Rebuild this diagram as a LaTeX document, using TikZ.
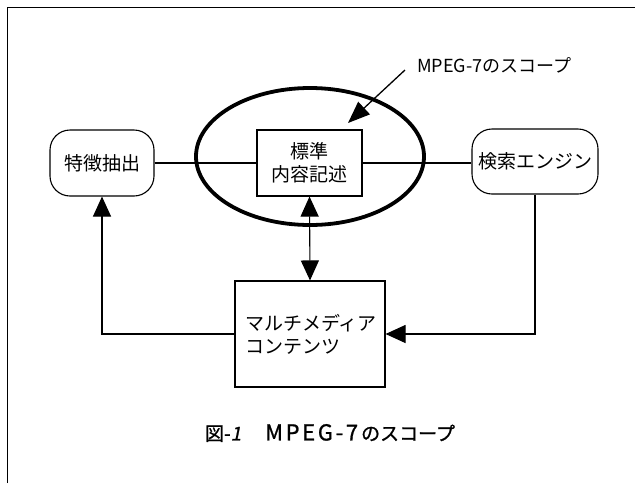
\documentclass[tikz,border=0pt]{standalone}
\usepackage{fontspec}
\setmainfont{Noto Sans CJK JP}
\usetikzlibrary{arrows.meta}
\begin{document}
\begin{tikzpicture}[x=1pt,y=-1pt,
  base/.style={font=\fontsize{19}{23}\selectfont, line width=1.1pt},
  roundbox/.style={base, draw, rounded corners=20pt, inner sep=0pt, align=center},
  sqbox/.style={base, draw, inner sep=0pt, align=center},
  conn/.style={line width=1.1pt},
  bigtip/.style={-{Triangle[length=20pt,width=18pt]}},
  bothtips/.style={{Triangle[length=20pt,width=18pt]}-{Triangle[length=20pt,width=18pt]}}]
\useasboundingbox (0,0) rectangle (635,483);
\draw[line width=0.8pt] (7,483) -- (7,7) -- (635,7);
\node[roundbox, minimum width=104pt, minimum height=66pt] (feat) at (102,163) {特徴抽出};
\node[sqbox, minimum width=105pt, minimum height=66pt] (std) at (309.5,163) {標準\\内容記述};
\node[roundbox, minimum width=126pt, minimum height=65pt] (search) at (535,161.5) {検索エンジン};
\node[sqbox, minimum height=106pt, text width=136pt, inner xsep=7pt, align=left] (multi) at (310,334) {\hspace*{3pt}マルチメディア\\\hspace*{3pt}コンテンツ};
\draw[line width=3.8pt] (310,156.5) ellipse [x radius=114pt, y radius=68.5pt];
\draw[conn] (feat.east) -- (std.west);
\draw[conn] (std.east) -- (std.east -| search.west);
\draw[conn, bothtips] (std.south) -- (multi.north);
\draw[conn, bigtip] (multi.west) -| (feat.south);
\draw[conn, bigtip] (search.south) |- (multi.east);
\node[font=\fontsize{18}{22}\selectfont, anchor=west, inner sep=0pt] (scope) at (417,65) {MPEG-7のスコープ};
\coordinate (scopestart) at (405,70);
\coordinate (scopetip) at (348,123);
\draw[line width=1.3pt, -{Triangle[length=22pt,width=17pt]}] (scopestart) -- (scopetip);
\node[font=\fontsize{19}{22}\selectfont, inner sep=0pt] (cap) at (330,433) {\addfontfeature{FakeBold=1}図-{\addfontfeature{FakeSlant=0.2}1}\hspace{24pt}{\fontsize{22}{22}\selectfont\addfontfeature{LetterSpace=12}MPEG-7}\hspace{3pt}のスコープ};
\end{tikzpicture}
\end{document}
